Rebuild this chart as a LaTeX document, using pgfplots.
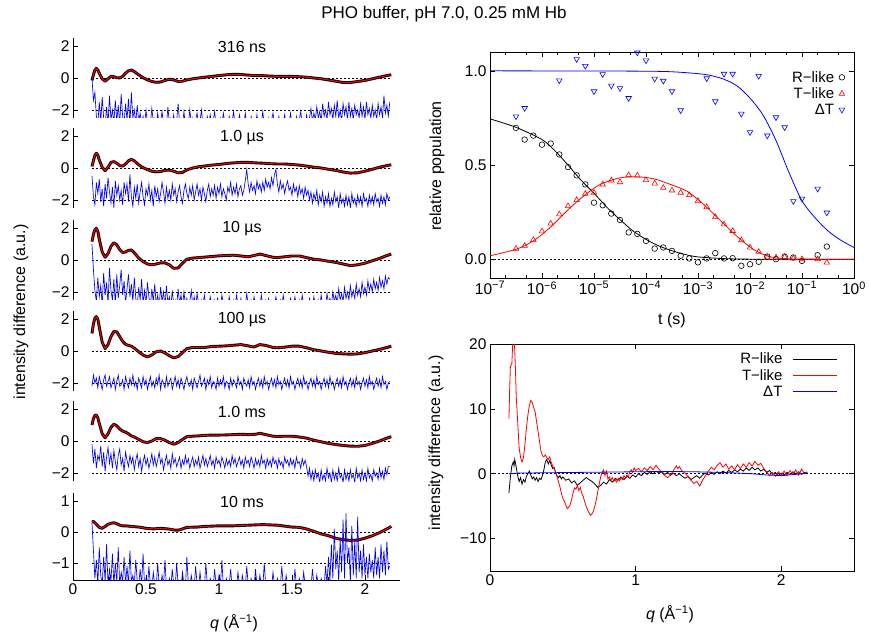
\documentclass[border=0pt]{standalone}
\usepackage{fontspec}
\setmainfont{Liberation Sans}
\usepackage{pgfplots}
\usepackage{pgfplotstable}
\pgfplotsset{compat=1.18}

% ---------- fits of the six time delays (q, intensity) ----------
\pgfplotstableread{
q f
0.13 -0.15
0.14 0.2
0.15 0.5
0.16 0.6
0.17 0.5
0.18 0.3
0.20 -0.05
0.22 -0.2
0.24 -0.05
0.26 0.1
0.28 0.08
0.30 0.02
0.32 0.0
0.34 0.1
0.36 0.3
0.38 0.45
0.40 0.5
0.42 0.4
0.45 0.2
0.48 0.02
0.51 -0.12
0.54 -0.22
0.57 -0.27
0.60 -0.25
0.63 -0.15
0.66 -0.08
0.69 -0.12
0.72 -0.22
0.75 -0.2
0.78 -0.12
0.82 -0.05
0.86 0.0
0.90 0.05
0.95 0.1
1.0 0.15
1.05 0.2
1.1 0.23
1.15 0.22
1.2 0.18
1.25 0.15
1.3 0.15
1.35 0.12
1.4 0.1
1.45 0.1
1.5 0.1
1.55 0.08
1.6 0.05
1.65 0.0
1.7 -0.05
1.75 -0.12
1.8 -0.2
1.85 -0.28
1.9 -0.28
1.95 -0.22
2.0 -0.15
2.05 -0.05
2.1 0.05
2.15 0.15
2.18 0.2
}\fitA

\pgfplotstableread{
q f
0.13 0.1
0.14 0.45
0.15 0.8
0.16 0.92
0.17 0.8
0.18 0.5
0.20 0.05
0.22 -0.17
0.24 0.05
0.26 0.35
0.28 0.4
0.30 0.3
0.32 0.15
0.34 0.12
0.36 0.25
0.38 0.45
0.40 0.54
0.42 0.45
0.45 0.2
0.48 0.02
0.51 -0.1
0.54 -0.2
0.57 -0.24
0.60 -0.22
0.63 -0.15
0.66 -0.13
0.69 -0.2
0.72 -0.3
0.75 -0.28
0.78 -0.12
0.82 0.0
0.86 0.08
0.90 0.12
0.95 0.18
1.0 0.22
1.05 0.28
1.1 0.32
1.15 0.35
1.2 0.35
1.25 0.32
1.3 0.3
1.35 0.27
1.4 0.25
1.45 0.25
1.5 0.22
1.55 0.18
1.6 0.12
1.65 0.05
1.7 0.0
1.75 -0.08
1.8 -0.15
1.85 -0.25
1.9 -0.32
1.95 -0.3
2.0 -0.2
2.05 -0.08
2.1 0.05
2.15 0.15
2.18 0.2
}\fitB

\pgfplotstableread{
q f
0.13 1.15
0.14 1.6
0.15 1.9
0.16 1.98
0.17 1.8
0.18 1.3
0.20 0.5
0.22 0.17
0.24 0.4
0.26 0.85
0.28 1.08
0.30 0.95
0.32 0.65
0.34 0.47
0.36 0.5
0.38 0.6
0.40 0.63
0.42 0.45
0.45 0.12
0.48 -0.1
0.51 -0.25
0.54 -0.3
0.57 -0.25
0.60 -0.18
0.63 -0.18
0.66 -0.3
0.69 -0.52
0.72 -0.5
0.75 -0.2
0.78 0.05
0.82 0.12
0.86 0.15
0.90 0.18
0.95 0.22
1.0 0.26
1.05 0.28
1.1 0.3
1.15 0.25
1.2 0.2
1.25 0.3
1.28 0.37
1.32 0.28
1.37 0.17
1.4 0.15
1.45 0.2
1.5 0.25
1.55 0.25
1.6 0.15
1.65 0.05
1.7 0.0
1.75 -0.08
1.8 -0.15
1.85 -0.25
1.9 -0.35
1.95 -0.3
2.0 -0.2
2.05 -0.05
2.1 0.1
2.15 0.28
2.18 0.37
}\fitC

\pgfplotstableread{
q f
0.13 1.1
0.14 1.7
0.15 2.05
0.16 2.15
0.17 2.0
0.18 1.5
0.20 0.55
0.22 0.15
0.24 0.4
0.26 0.9
0.28 1.22
0.30 1.2
0.32 0.9
0.34 0.6
0.36 0.42
0.38 0.35
0.40 0.3
0.42 0.18
0.45 -0.05
0.48 -0.25
0.51 -0.37
0.54 -0.25
0.57 -0.05
0.60 0.0
0.63 -0.12
0.66 -0.3
0.69 -0.43
0.72 -0.35
0.75 -0.1
0.78 0.15
0.82 0.22
0.86 0.22
0.90 0.22
0.95 0.28
1.0 0.3
1.05 0.32
1.1 0.36
1.15 0.4
1.2 0.32
1.24 0.25
1.28 0.4
1.32 0.35
1.37 0.22
1.4 0.2
1.45 0.24
1.5 0.3
1.55 0.3
1.6 0.2
1.65 0.08
1.7 0.0
1.75 -0.08
1.8 -0.15
1.85 -0.18
1.9 -0.2
1.95 -0.18
2.0 -0.1
2.05 0.0
2.1 0.1
2.15 0.22
2.18 0.3
}\fitD

\pgfplotstableread{
q f
0.13 1.0
0.14 1.4
0.15 1.6
0.16 1.62
0.17 1.45
0.18 1.1
0.20 0.45
0.22 0.2
0.24 0.45
0.26 0.85
0.28 1.05
0.30 0.95
0.32 0.75
0.34 0.62
0.36 0.55
0.38 0.45
0.40 0.32
0.42 0.25
0.45 0.1
0.48 -0.05
0.51 -0.1
0.54 0.0
0.57 0.15
0.60 0.15
0.63 0.05
0.66 -0.1
0.69 -0.2
0.72 -0.1
0.75 0.1
0.78 0.27
0.82 0.3
0.86 0.32
0.90 0.35
0.95 0.37
1.0 0.37
1.05 0.38
1.1 0.4
1.15 0.42
1.2 0.4
1.25 0.42
1.28 0.48
1.32 0.4
1.37 0.3
1.4 0.28
1.45 0.3
1.5 0.3
1.55 0.25
1.6 0.18
1.65 0.05
1.7 -0.05
1.75 -0.15
1.8 -0.22
1.85 -0.28
1.9 -0.32
1.95 -0.33
2.0 -0.28
2.05 -0.15
2.1 0.0
2.15 0.18
2.18 0.27
}\fitE

\pgfplotstableread{
q f
0.13 0.32
0.14 0.34
0.15 0.3
0.16 0.25
0.18 0.15
0.20 0.12
0.22 0.18
0.24 0.25
0.26 0.28
0.28 0.3
0.30 0.27
0.32 0.22
0.34 0.2
0.36 0.2
0.40 0.18
0.45 0.16
0.50 0.12
0.55 0.1
0.60 0.12
0.65 0.1
0.70 0.06
0.72 0.06
0.75 0.1
0.78 0.15
0.85 0.16
0.90 0.18
1.0 0.2
1.1 0.2
1.2 0.22
1.3 0.24
1.4 0.22
1.5 0.16
1.55 0.15
1.6 0.1
1.65 0.02
1.7 -0.06
1.75 -0.12
1.8 -0.2
1.85 -0.25
1.9 -0.27
1.95 -0.26
2.0 -0.2
2.05 -0.12
2.1 -0.02
2.15 0.1
2.18 0.18
}\fitF

% ---------- residuals (offset) of the six panels ----------
\pgfplotstableread{
q r1 r2 r3 r4 r5 r6
0.13 0.0 -0.5 1.0 -2.2 -0.2 0.3
0.14 -1.4 -1.8 -0.6 -1.5 -1.4 -0.6
0.15 -0.9 -2.3 -1.9 -2.0 -0.5 -1.5
0.16 -2.4 -0.9 -2.6 -1.7 -1.7 -0.9
0.17 -2.9 -1.6 -1.1 -2.3 -0.9 -1.7
0.18 -1.5 -0.7 -2.3 -1.6 -1.2 -0.5
0.19 -2.7 -2.1 -1.6 -2.0 -0.3 -1.4
0.20 -1.2 -1.3 -2.8 -2.4 -1.6 -1.7
0.21 -2.5 -2.4 -0.8 -1.8 -0.7 -0.8
0.22 -3.0 -1.0 -2.2 -1.5 -1.9 -1.6
0.23 -1.8 -1.9 -1.4 -2.2 -1.0 -0.4
0.24 -2.9 -0.6 -2.7 -1.9 -0.4 -1.7
0.25 -1.1 -1.5 -0.5 -1.6 -1.4 -1.2
0.26 -2.6 -2.2 -1.9 -2.3 -0.8 -1.6
0.27 -2.0 -1.2 -2.5 -2.0 -1.7 -0.7
0.28 -2.8 -2.5 -1.2 -1.7 -0.6 -1.7
0.29 -1.4 -0.8 -2.8 -2.4 -1.3 -1.0
0.30 -2.7 -1.7 -0.9 -1.9 -1.8 -1.6
0.31 -1.7 -1.1 -2.4 -1.5 -0.9 -0.5
0.32 -2.9 -2.0 -1.6 -2.2 -0.5 -1.7
0.33 -1.0 -1.4 -0.6 -2.1 -1.5 -1.3
0.34 -2.4 -2.3 -2.2 -1.8 -1.1 -1.6
0.35 -2.8 -0.9 -1.3 -2.4 -1.9 -0.8
0.36 -1.6 -1.6 -2.7 -1.6 -0.7 -1.7
0.37 -2.6 -1.0 -1.8 -2.0 -1.2 -1.1
0.38 -1.3 -2.1 -0.9 -2.3 -1.6 -1.7
0.39 -2.9 -0.4 -2.3 -1.7 -0.9 -0.6
0.40 -0.9 -1.8 -1.5 -2.1 -1.4 -1.6
0.41 -2.5 -2.4 -2.6 -1.5 -1.0 -1.4
0.42 -2.0 -1.2 -1.1 -2.2 -1.8 -1.7
0.43 -2.8 -1.9 -2.4 -1.9 -1.2 -0.9
0.44 -1.7 -1.0 -2.9 -2.4 -0.8 -1.6
0.45 -2.7 -2.2 -1.7 -1.7 -1.6 -1.7
0.46 -2.2 -1.5 -2.5 -2.0 -1.1 -1.2
0.47 -2.9 -0.9 -1.2 -2.3 -1.9 -1.7
0.48 -2.4 -1.8 -2.7 -1.6 -1.3 -0.7
0.49 -3.0 -2.3 -1.9 -2.1 -0.9 -1.7
0.50 -2.0 -1.3 -2.8 -1.8 -1.5 -1.5
0.51 -2.8 -1.7 -1.4 -2.4 -1.1 -1.8
0.52 -2.6 -1.0 -2.3 -2.0 -1.7 -1.1
0.53 -2.9 -2.0 -2.9 -1.6 -1.3 -1.7
0.54 -1.9 -1.4 -1.8 -2.2 -0.8 -1.8
0.55 -2.7 -2.4 -2.6 -1.9 -1.5 -1.3
0.56 -2.5 -1.1 -1.5 -2.3 -1.0 -1.7
0.57 -3.0 -1.8 -2.8 -1.7 -1.6 -1.8
0.58 -2.2 -1.3 -2.2 -2.1 -1.2 -1.0
0.59 -2.9 -2.1 -2.9 -1.5 -0.7 -1.7
0.60 -2.7 -1.6 -1.7 -2.4 -1.4 -1.8
0.61 -2.1 -0.9 -2.6 -1.8 -1.1 -1.4
0.62 -2.9 -1.5 -2.0 -2.0 -1.8 -1.7
0.63 -2.6 -2.2 -2.9 -2.3 -1.3 -0.9
0.64 -3.0 -1.2 -1.6 -1.6 -0.9 -1.8
0.65 -1.8 -1.9 -2.7 -2.2 -1.5 -1.7
0.66 -2.8 -1.4 -2.3 -1.9 -1.2 -1.5
0.67 -2.5 -2.0 -2.9 -1.7 -1.7 -1.8
0.68 -2.9 -1.0 -1.9 -2.4 -0.8 -1.2
0.69 -2.3 -1.7 -2.8 -2.0 -1.4 -1.7
0.70 -3.0 -1.3 -2.5 -1.6 -1.1 -1.8
0.71 -2.7 -2.1 -2.9 -2.2 -1.6 -1.0
0.72 -1.6 -1.5 -1.8 -1.8 -1.3 -1.7
0.73 -2.8 -1.1 -2.7 -2.3 -1.0 -1.6
0.74 -2.6 -1.8 -2.2 -1.7 -1.7 -1.8
0.75 -2.9 -2.2 -2.9 -2.0 -1.2 -1.3
0.76 -2.1 -1.4 -2.0 -2.4 -1.5 -1.7
0.77 -3.0 -1.0 -2.8 -1.9 -0.9 -1.8
0.78 -2.7 -1.6 -2.4 -1.6 -1.4 -0.8
0.79 -2.9 -1.9 -2.9 -2.1 -1.1 -1.7
0.80 -2.0 -1.2 -2.6 -2.2 -1.7 -1.8
0.81 -2.8 -1.7 -1.9 -1.8 -1.3 -1.4
0.82 -2.5 -1.1 -2.8 -2.4 -1.0 -1.7
0.83 -3.0 -2.0 -2.3 -1.7 -1.6 -1.8
0.84 -2.6 -1.5 -2.9 -2.0 -1.2 -1.1
0.85 -2.2 -1.0 -2.1 -2.3 -1.5 -1.7
0.86 -2.9 -1.7 -2.7 -1.9 -1.0 -1.8
0.87 -2.7 -1.3 -2.9 -1.5 -1.7 -1.3
0.88 -2.0 -2.0 -2.5 -2.2 -1.3 -1.7
0.89 -2.9 -1.2 -2.8 -2.0 -0.9 -1.6
0.90 -2.6 -1.6 -2.2 -1.7 -1.5 -1.8
0.91 -3.0 -2.1 -2.9 -2.4 -1.1 -1.0
0.92 -2.4 -1.4 -2.6 -1.8 -1.6 -1.7
0.93 -2.8 -1.0 -2.9 -2.1 -1.3 -1.8
0.94 -2.3 -1.8 -2.3 -1.6 -0.9 -1.5
0.95 -2.9 -1.3 -2.8 -2.3 -1.5 -1.7
0.96 -2.7 -1.7 -2.9 -1.9 -1.2 -1.8
0.97 -2.1 -1.1 -2.5 -2.0 -1.7 -1.2
0.98 -2.9 -1.9 -2.9 -2.4 -1.0 -1.7
0.99 -2.6 -1.2 -2.4 -1.7 -1.4 -1.8
1.00 -3.0 -1.6 -2.8 -2.2 -1.2 -1.4
1.01 -2.5 -1.0 -2.9 -1.8 -1.6 -1.7
1.02 -2.9 -1.8 -2.2 -2.1 -1.0 -0.9
1.03 -2.2 -1.3 -2.7 -1.6 -1.3 -1.8
1.04 -2.8 -1.6 -2.9 -2.3 -1.7 -1.7
1.05 -2.6 -2.0 -2.6 -1.9 -1.1 -1.5
1.06 -3.0 -1.2 -2.9 -2.0 -1.5 -1.8
1.07 -2.4 -1.5 -2.3 -2.4 -1.2 -1.7
1.08 -2.9 -0.9 -2.8 -1.7 -1.6 -1.2
1.09 -2.7 -1.7 -2.9 -2.2 -0.9 -1.8
1.10 -2.1 -1.2 -2.5 -1.8 -1.4 -1.7
1.11 -2.9 -1.6 -2.9 -2.0 -1.1 -1.6
1.12 -2.6 -1.0 -2.2 -2.3 -1.6 -1.8
1.13 -3.0 -1.8 -2.8 -1.6 -1.3 -1.3
1.14 -2.3 -1.3 -2.9 -2.1 -1.0 -1.7
1.15 -2.8 -1.1 -2.4 -1.9 -1.5 -1.8
1.16 -2.6 -1.7 -2.9 -2.4 -1.2 -1.4
1.17 -2.9 -1.4 -2.6 -1.7 -1.7 -1.7
1.18 -2.2 -0.8 -2.9 -2.0 -1.0 -1.8
1.19 -2.9 -0.1 -2.1 -2.2 -1.4 -1.1
1.20 -2.7 -1.0 -2.8 -1.8 -1.2 -1.7
1.21 -3.0 -1.5 -2.9 -2.3 -1.6 -1.8
1.22 -2.4 -0.9 -2.5 -1.6 -1.0 -1.5
1.23 -2.8 -1.4 -2.9 -2.1 -1.3 -1.7
1.24 -2.6 -1.1 -2.3 -1.9 -1.7 -1.8
1.25 -2.9 -1.6 -2.8 -2.4 -1.1 -1.2
1.26 -2.3 -0.8 -2.9 -2.0 -1.5 -1.7
1.27 -3.0 -1.3 -2.6 -1.7 -1.2 -1.8
1.28 -2.6 -1.0 -2.9 -2.2 -1.6 -1.4
1.29 -2.8 -1.5 -2.2 -1.8 -0.9 -1.7
1.30 -2.1 -0.9 -2.8 -2.3 -1.4 -1.8
1.31 -2.9 -1.4 -2.9 -1.6 -1.2 -1.0
1.32 -2.7 -0.7 -2.5 -2.1 -1.7 -1.7
1.33 -3.0 -1.2 -2.9 -1.9 -1.1 -1.8
1.34 -2.5 -0.9 -2.4 -2.4 -1.5 -1.6
1.35 -2.9 -1.3 -2.8 -2.0 -1.2 -1.7
1.36 -2.6 -0.6 -2.9 -1.7 -1.6 -1.8
1.37 -2.2 -1.1 -2.6 -2.2 -1.0 -1.3
1.38 -2.9 -0.4 -2.9 -1.8 -1.4 -1.7
1.39 -2.7 -0.1 -2.3 -2.3 -1.2 -1.8
1.40 -3.0 -1.0 -2.8 -1.6 -1.7 -1.5
1.41 -2.4 -1.5 -2.9 -2.1 -1.1 -1.7
1.42 -2.8 -0.8 -2.5 -1.9 -1.5 -1.8
1.43 -2.6 -1.3 -2.9 -2.4 -1.3 -1.1
1.44 -2.9 -1.0 -2.2 -2.0 -1.7 -1.7
1.45 -2.3 -1.6 -2.8 -1.7 -1.0 -1.8
1.46 -3.0 -1.1 -2.9 -2.2 -1.4 -1.4
1.47 -2.6 -0.8 -2.6 -1.8 -1.2 -1.7
1.48 -2.8 -1.4 -2.9 -2.3 -1.6 -1.8
1.49 -2.2 -1.2 -2.4 -1.6 -1.1 -1.6
1.50 -2.9 -1.7 -2.8 -2.1 -1.5 -1.7
1.51 -2.7 -1.0 -2.9 -1.9 -1.2 -1.8
1.52 -3.0 -1.5 -2.3 -2.4 -1.7 -1.2
1.53 -2.4 -1.2 -2.8 -2.0 -1.0 -1.7
1.54 -2.9 -1.8 -2.9 -1.7 -1.4 -1.8
1.55 -2.6 -1.1 -2.5 -2.2 -1.3 -1.5
1.56 -2.1 -1.6 -2.9 -1.8 -1.7 -1.7
1.57 -2.9 -1.3 -2.2 -2.3 -1.1 -1.8
1.58 -2.7 -1.9 -2.8 -1.6 -1.5 -1.3
1.59 -3.0 -1.2 -2.9 -2.1 -1.2 -1.7
1.60 -2.3 -1.7 -2.6 -1.9 -1.6 -1.8
1.61 -2.8 -1.4 -2.9 -2.4 -2.2 -1.6
1.62 -2.5 -2.0 -2.4 -2.0 -1.7 -1.7
1.63 -1.9 -1.5 -2.8 -1.7 -2.4 -1.8
1.64 -2.7 -2.2 -2.9 -2.2 -1.9 -1.2
1.65 -2.2 -1.6 -2.3 -1.8 -2.5 -1.7
1.66 -2.6 -2.0 -2.8 -2.3 -1.8 -1.8
1.67 -1.8 -1.4 -2.9 -1.6 -2.3 -1.4
1.68 -2.5 -2.3 -2.5 -2.1 -2.0 -1.7
1.69 -2.1 -1.7 -2.9 -1.9 -2.6 -1.8
1.70 -2.7 -2.1 -2.2 -2.4 -1.8 -1.5
1.71 -1.6 -1.5 -2.8 -2.0 -2.4 -1.7
1.72 -2.4 -2.4 -2.6 -1.7 -2.1 -1.8
1.73 -2.0 -1.8 -2.9 -2.2 -2.5 -1.1
1.74 -2.6 -2.2 -2.1 -1.8 -1.7 -1.7
1.75 -1.5 -1.6 -2.7 -2.3 -2.3 -0.8
1.76 -2.3 -2.4 -2.4 -1.6 -2.0 -1.6
1.77 -1.9 -1.9 -2.8 -2.1 -2.6 -0.4
1.78 -2.6 -2.3 -2.0 -1.9 -1.8 -1.5
1.79 -1.7 -1.5 -2.6 -2.4 -2.4 0.1
1.80 -2.4 -2.1 -2.2 -2.0 -2.0 -1.2
1.81 -1.4 -1.8 -2.7 -1.7 -2.5 -0.6
1.82 -2.5 -2.5 -1.8 -2.2 -1.7 -1.6
1.83 -2.0 -1.6 -2.5 -1.8 -2.3 -0.2
1.84 -2.7 -2.2 -2.1 -2.3 -2.1 -1.3
1.85 -1.6 -1.9 -2.6 -1.6 -2.6 0.4
1.86 -2.3 -2.4 -1.7 -2.1 -1.8 -1.5
1.87 -1.8 -1.7 -2.4 -1.9 -2.4 0.6
1.88 -2.6 -2.3 -2.0 -2.4 -2.0 -1.0
1.89 -1.5 -1.8 -2.5 -2.0 -2.5 -0.5
1.90 -2.4 -2.5 -1.6 -1.7 -1.8 -1.6
1.91 -1.9 -1.6 -2.3 -2.2 -2.3 0.2
1.92 -2.6 -2.2 -1.9 -1.8 -2.1 -1.4
1.93 -1.7 -1.9 -2.4 -2.3 -2.6 -0.3
1.94 -2.3 -2.4 -1.5 -1.6 -1.7 -1.5
1.95 -2.0 -1.7 -2.2 -2.1 -2.3 0.5
1.96 -2.5 -2.2 -1.8 -1.9 -2.0 -1.3
1.97 -1.6 -1.8 -2.3 -2.4 -2.5 -0.6
1.98 -2.4 -2.4 -1.4 -2.0 -1.8 -1.5
1.99 -1.8 -1.6 -2.1 -1.7 -2.4 -0.4
2.00 -2.6 -2.1 -1.7 -2.2 -2.0 -1.4
2.01 -1.5 -1.9 -2.2 -1.8 -2.5 -0.8
2.02 -2.3 -2.4 -1.3 -2.3 -1.7 -1.5
2.03 -1.9 -1.7 -1.9 -1.6 -2.3 -0.7
2.04 -2.5 -2.2 -1.5 -2.1 -2.1 -1.3
2.05 -1.7 -1.8 -2.0 -1.9 -2.5 -0.9
2.06 -2.4 -2.3 -1.2 -2.4 -1.8 -1.5
2.07 -2.0 -1.6 -1.8 -2.0 -2.2 -0.5
2.08 -2.6 -2.1 -1.4 -1.7 -2.0 -1.4
2.09 -1.6 -1.9 -1.9 -2.2 -2.4 -0.8
2.10 -2.3 -2.4 -1.1 -1.8 -1.7 -1.5
2.11 -1.8 -1.7 -1.7 -2.3 -2.3 -0.4
2.12 -2.5 -2.2 -1.3 -1.6 -1.9 -1.3
2.13 -1.1 -1.8 -1.8 -2.1 -2.4 -0.6
2.14 -2.2 -2.3 -1.0 -1.9 -1.7 -1.4
2.15 -1.7 -1.6 -1.5 -2.4 -2.1 -0.3
2.16 -2.4 -2.0 -1.1 -2.0 -1.6 -1.2
2.17 -1.5 -1.8 -1.2 -1.9 -1.6 -1.1
}\resid

\pgfplotsset{
  every axis/.append style={scale only axis, anchor=south west,
    tick align=inside, major tick length=5pt, minor tick length=3pt,
    tick style={black, line width=0.6pt},
    axis line style={line width=0.8pt},
    tick label style={font=\fontsize{15.5}{18}\selectfont},
    clip=true},
  lp/.style={width=327pt, height=80pt, xmin=0, xmax=2.24, ymin=-2.5, ymax=2.5,
    axis y line*=left,
    ytick={-2,0,2}, yticklabels={−2,0,2}},
  zl/.style={black, line width=0.6pt, dash pattern=on 2pt off 2pt},
  bk/.style={black, line width=2.9pt, line join=round},
  rd/.style={red, line width=1pt, line join=round},
  bl/.style={blue, line width=0.65pt},
}

\begin{document}
\begin{tikzpicture}[font=\fontsize{16}{19}\selectfont]
\useasboundingbox (0pt,0pt) rectangle (869pt,635pt);

% ---- left column ----
\begin{axis}[lp, axis x line=none, at={(73pt,517pt)}]
\addplot[zl] coordinates {(0.13,0) (2.18,0)};
\addplot[zl] coordinates {(0.13,-2) (2.18,-2)};
\addplot[bk] table[x=q,y=f]{\fitA};
\addplot[rd] table[x=q,y=f]{\fitA};
\addplot[bl] table[x=q,y=r1]{\resid};
\end{axis}

\begin{axis}[lp, axis x line=none, at={(73pt,427pt)}]
\addplot[zl] coordinates {(0.13,0) (2.18,0)};
\addplot[zl] coordinates {(0.13,-2) (2.18,-2)};
\addplot[bk] table[x=q,y=f]{\fitB};
\addplot[rd] table[x=q,y=f]{\fitB};
\addplot[bl] table[x=q,y=r2]{\resid};
\end{axis}

\begin{axis}[lp, axis x line=none, at={(73pt,335pt)}]
\addplot[zl] coordinates {(0.13,0) (2.18,0)};
\addplot[zl] coordinates {(0.13,-2) (2.18,-2)};
\addplot[bk] table[x=q,y=f]{\fitC};
\addplot[rd] table[x=q,y=f]{\fitC};
\addplot[bl] table[x=q,y=r3]{\resid};
\end{axis}

\begin{axis}[lp, axis x line=none, at={(73pt,244pt)}]
\addplot[zl] coordinates {(0.13,0) (2.18,0)};
\addplot[zl] coordinates {(0.13,-2) (2.18,-2)};
\addplot[bk] table[x=q,y=f]{\fitD};
\addplot[rd] table[x=q,y=f]{\fitD};
\addplot[bl] table[x=q,y=r4]{\resid};
\end{axis}

\begin{axis}[lp, axis x line=none, at={(73pt,154pt)}]
\addplot[zl] coordinates {(0.13,0) (2.18,0)};
\addplot[zl] coordinates {(0.13,-2) (2.18,-2)};
\addplot[bk] table[x=q,y=f]{\fitE};
\addplot[rd] table[x=q,y=f]{\fitE};
\addplot[bl] table[x=q,y=r5]{\resid};
\end{axis}

\begin{axis}[lp, at={(73pt,55pt)}, height=87pt, ymin=-1.55, ymax=1.26,
  ytick={-1,0,1}, yticklabels={−1,0,1},
  axis x line*=bottom,
  xtick={0,0.5,1,1.5,2}, xticklabels={0,0.5,1,1.5,2},
  minor xtick={0.25,0.75,1.25,1.75}]
\addplot[zl] coordinates {(0.13,0) (2.18,0)};
\addplot[zl] coordinates {(0.13,-1) (2.18,-1)};
\addplot[bk] table[x=q,y=f]{\fitF};
\addplot[rd] table[x=q,y=f]{\fitF};
\addplot[bl] table[x=q,y=r6]{\resid};
\end{axis}

% ---- right top: populations ----
\begin{axis}[at={(490pt,357pt)}, width=364pt, height=226pt,
  xmode=log, xmin=1e-7, xmax=1, ymin=-0.1, ymax=1.1,
  xtick={1e-7,1e-6,1e-5,1e-4,1e-3,1e-2,1e-1,1},
  xticklabels={10\textsuperscript{−7},10\textsuperscript{−6},10\textsuperscript{−5},10\textsuperscript{−4},10\textsuperscript{−3},10\textsuperscript{−2},10\textsuperscript{−1},10\textsuperscript{0}},
  minor xtick={2e-7,5e-7,2e-6,5e-6,2e-5,5e-5,2e-4,5e-4,2e-3,5e-3,2e-2,5e-2,2e-1,5e-1},
  ytick={0,0.5,1}, yticklabels={0.0,0.5,1.0},
  legend cell align=right, legend plot pos=right,
  legend style={draw=none, fill=none, at={(0.975,0.925)}, anchor=north east,
    font=\fontsize{15}{17}\selectfont, row sep=0pt, inner sep=0pt,
    /tikz/column sep=3pt}]
\addplot[zl, forget plot] coordinates {(1e-7,0) (1,0)};
\addplot[black, line width=0.8pt, smooth, forget plot] coordinates {
(1e-7,0.745) (3.16e-7,0.70) (1e-6,0.635) (1.78e-6,0.575) (3.16e-6,0.50)
(5.62e-6,0.42) (1e-5,0.35) (1.78e-5,0.275) (3.16e-5,0.21) (5.62e-5,0.15)
(1e-4,0.105) (1.78e-4,0.07) (3.16e-4,0.045) (5.62e-4,0.025) (1e-3,0.012)
(3.16e-3,0.003) (1e-2,0.0) (1e-1,0.0) (1,0.0)};
\addplot[red, line width=0.8pt, smooth, forget plot] coordinates {
(1e-7,0.018) (3.2e-7,0.053) (6.8e-7,0.097) (1.43e-6,0.168) (3.0e-6,0.256)
(6.3e-6,0.335) (1.32e-5,0.397) (3.2e-5,0.432) (6.7e-5,0.437) (1.4e-4,0.427)
(2.94e-4,0.397) (6.2e-4,0.36) (1.29e-3,0.29) (2.7e-3,0.205) (5.7e-3,0.12)
(1.19e-2,0.05) (2.48e-2,0.012) (5.2e-2,0.002) (0.2,0.0) (1,0.0)};
\addplot[blue, line width=0.8pt, smooth, forget plot] coordinates {
(1e-7,1.0) (1e-5,0.999) (1e-4,0.998) (3.16e-4,0.995) (1e-3,0.985)
(1.78e-3,0.975) (3.16e-3,0.955) (5.62e-3,0.92) (1e-2,0.855) (1.78e-2,0.765)
(3.16e-2,0.63) (5.62e-2,0.46) (0.1,0.31) (0.178,0.22) (0.316,0.15)
(0.562,0.10) (1,0.062)};
\addplot[only marks, mark=o, mark size=2.8pt, mark options={black, line width=0.6pt}] coordinates {
(3.16e-7,0.697) (4.64e-7,0.635) (6.81e-7,0.656) (1e-6,0.608) (1.47e-6,0.614)
(2.15e-6,0.556) (3.16e-6,0.489) (4.64e-6,0.445) (6.81e-6,0.397) (1e-5,0.300)
(1.47e-5,0.286) (2.15e-5,0.242) (3.16e-5,0.208) (4.64e-5,0.142) (6.81e-5,0.134)
(1e-4,0.097) (1.47e-4,0.056) (2.15e-4,0.062) (3.16e-4,0.044) (4.64e-4,0.018)
(6.81e-4,0.004) (1e-3,-0.017) (1.47e-3,0.004) (2.15e-3,0.032) (3.16e-3,0.004)
(4.64e-3,0.005) (6.81e-3,-0.035) (1e-2,-0.027) (1.47e-2,-0.014) (2.15e-2,0.014)
(3.16e-2,0.0) (4.64e-2,0.014) (6.81e-2,0.009) (0.1,-0.009) (0.2,0.021) (0.3,0.067)};
\addlegendentry{R−like}
\addplot[only marks, mark=triangle, mark size=3.2pt, mark options={red, line width=0.6pt}] coordinates {
(3.16e-7,0.056) (4.64e-7,0.071) (6.81e-7,0.102) (1e-6,0.148) (1.47e-6,0.189)
(2.15e-6,0.238) (3.16e-6,0.282) (4.64e-6,0.314) (6.81e-6,0.347) (1e-5,0.353)
(1.47e-5,0.397) (2.15e-5,0.418) (3.16e-5,0.409) (4.64e-5,0.446) (6.81e-5,0.444)
(1e-4,0.420) (1.47e-4,0.402) (2.15e-4,0.379) (3.16e-4,0.365) (4.64e-4,0.353)
(6.81e-4,0.340) (1e-3,0.309) (1.47e-3,0.277) (2.15e-3,0.224) (3.16e-3,0.185)
(4.64e-3,0.150) (6.81e-3,0.101) (1e-2,0.062) (1.47e-2,0.039) (2.15e-2,0.009)
(3.16e-2,0.009) (4.64e-2,0.012) (6.81e-2,0.004) (0.1,0.0) (0.2,0.0) (0.3,-0.018)};
\addlegendentry{T−like}
\addplot[only marks, mark=triangle, mark size=3.2pt, mark options={blue, line width=0.6pt, rotate=180}] coordinates {
(3.16e-7,0.758) (4.64e-7,0.802) (2.15e-6,0.949) (4.64e-6,1.062) (6.81e-6,1.026)
(1e-5,0.891) (1.47e-5,0.982) (2.15e-5,0.921) (3.16e-5,0.908) (4.64e-5,0.855)
(6.81e-5,1.097) (1e-4,1.055) (1.47e-4,0.958) (2.15e-4,0.947) (3.16e-4,0.891)
(4.64e-4,0.790) (1.47e-3,0.960) (2.15e-3,0.838) (3.16e-3,0.984) (4.64e-3,0.984)
(6.81e-3,0.772) (1e-2,0.674) (1.47e-2,0.973) (2.15e-2,0.656) (3.16e-2,0.753)
(4.64e-2,0.700) (6.81e-2,0.308) (0.1,0.321) (0.2,0.374) (0.3,0.247)};
\addlegendentry{ΔT}
\end{axis}

% ---- right bottom: species difference patterns ----
\begin{axis}[at={(490pt,64pt)}, width=364pt, height=227pt,
  xmin=0, xmax=2.5, ymin=-15, ymax=20,
  xtick={0,1,2}, xticklabels={0,1,2},
  ytick={-10,0,10,20}, yticklabels={−10,0,10,20},
  legend cell align=right, legend plot pos=right,
  legend image code/.code={\draw[#1] (0pt,0pt) -- (44pt,0pt);},
  legend style={draw=none, fill=none, at={(0.955,0.97)}, anchor=north east,
    font=\fontsize{15}{17}\selectfont, row sep=0pt, inner sep=0pt,
    /tikz/column sep=8pt}]
\addlegendimage{draw=black, line width=1pt}
\addlegendentry{R−like}
\addlegendimage{draw=red, line width=1pt}
\addlegendentry{T−like}
\addlegendimage{draw=blue, line width=1pt}
\addlegendentry{ΔT}
\addplot[zl, forget plot] coordinates {(0,0) (2.5,0)};
\addplot[black, line width=0.8pt, forget plot] coordinates {
(0.13,-3.0) (0.14,-0.5) (0.15,1.2) (0.16,1.8) (0.165,1.2) (0.17,2.2) (0.18,1.0)
(0.19,-0.3) (0.20,-1.2) (0.21,-0.6) (0.22,-1.6) (0.23,-0.9) (0.24,-1.3) (0.25,-0.4)
(0.26,0.0) (0.27,0.4) (0.28,-0.2) (0.29,-0.8) (0.30,-0.5) (0.31,-1.0) (0.32,-0.6)
(0.33,-1.2) (0.34,-0.7) (0.35,-0.9) (0.36,-0.3) (0.37,0.6) (0.38,1.8) (0.39,2.2)
(0.40,1.5) (0.41,2.0) (0.42,1.4) (0.43,0.8) (0.44,1.0) (0.45,0.2) (0.46,-0.3)
(0.47,-0.6) (0.48,-0.3) (0.49,-0.8) (0.50,-0.5) (0.52,-1.0) (0.54,-0.8) (0.56,-1.4)
(0.58,-1.1) (0.60,-1.8) (0.62,-1.4) (0.64,-1.0) (0.66,-0.6) (0.68,-0.9) (0.70,-1.2)
(0.72,-1.6) (0.74,-2.1) (0.76,-1.8) (0.78,-1.3) (0.80,-1.6) (0.82,-0.9) (0.84,-1.3)
(0.86,-0.7) (0.88,-1.0) (0.90,-0.5) (0.92,-0.9) (0.94,-0.4) (0.96,-0.7) (0.98,-0.2)
(1.00,-0.5) (1.02,0.0) (1.04,-0.3) (1.06,0.2) (1.08,-0.1) (1.10,0.3) (1.12,0.0)
(1.14,0.4) (1.16,0.1) (1.18,0.3) (1.20,-0.1) (1.22,0.2) (1.24,-0.2) (1.26,0.1)
(1.28,-0.3) (1.30,0.0) (1.32,-0.4) (1.34,-0.7) (1.36,-0.4) (1.38,-0.9) (1.40,-0.6)
(1.42,-0.3) (1.44,-0.7) (1.46,-0.2) (1.48,0.1) (1.50,-0.2) (1.52,0.2) (1.54,-0.1)
(1.56,0.3) (1.58,0.0) (1.60,0.4) (1.62,0.1) (1.64,0.5) (1.66,0.2) (1.68,0.6)
(1.70,0.3) (1.72,0.7) (1.74,0.4) (1.76,0.9) (1.78,0.5) (1.80,1.0) (1.82,0.6)
(1.84,0.9) (1.86,0.4) (1.88,0.7) (1.90,0.2) (1.92,0.5) (1.94,-0.1) (1.96,0.2)
(1.98,-0.3) (2.00,0.1) (2.02,-0.2) (2.04,0.2) (2.06,-0.1) (2.08,0.3) (2.10,0.0)
(2.12,0.3) (2.14,-0.1) (2.16,0.2) (2.18,0.1)};
\addplot[red, line width=0.8pt, forget plot] coordinates {
(0.13,8.5) (0.135,13) (0.14,16.5) (0.15,17) (0.155,19.5) (0.16,22) (0.165,21)
(0.17,19) (0.175,16) (0.18,12) (0.19,8) (0.20,4) (0.21,2.5) (0.22,1.8) (0.23,2.5)
(0.24,4.5) (0.25,7) (0.26,9) (0.27,10.5) (0.28,11.3) (0.29,11.0) (0.30,10.2)
(0.31,9.5) (0.32,8.0) (0.33,6.5) (0.34,5.0) (0.35,3.5) (0.36,2.8) (0.37,2.6)
(0.38,2.9) (0.39,2.5) (0.40,2.2) (0.41,2.6) (0.42,1.8) (0.43,1.2) (0.44,0.8)
(0.45,0.3) (0.46,-0.4) (0.47,-1.2) (0.48,-2.0) (0.49,-3.0) (0.50,-3.8) (0.51,-4.2)
(0.52,-4.8) (0.53,-5.4) (0.54,-5.2) (0.55,-4.8) (0.56,-4.0) (0.57,-3.0) (0.58,-2.2)
(0.59,-2.4) (0.60,-1.8) (0.61,-2.6) (0.62,-2.1) (0.63,-3.0) (0.64,-3.5) (0.65,-4.3)
(0.66,-5.0) (0.67,-5.6) (0.68,-6.0) (0.69,-6.4) (0.70,-6.2) (0.71,-5.8) (0.72,-5.0)
(0.73,-4.0) (0.74,-2.8) (0.75,-1.6) (0.76,-0.5) (0.77,0.2) (0.78,0.6) (0.79,-0.3)
(0.80,0.4) (0.81,-0.8) (0.82,-0.5) (0.83,-1.0) (0.84,-0.6) (0.85,-1.2) (0.86,-0.9)
(0.87,-1.3) (0.88,-0.7) (0.89,-1.1) (0.90,-0.6) (0.91,-0.9) (0.92,-0.3) (0.93,-0.7)
(0.94,-0.2) (0.95,-0.5) (0.96,0.3) (0.97,0.6) (0.98,0.2) (0.99,0.9) (1.00,0.5)
(1.02,0.8) (1.04,0.3) (1.06,0.9) (1.08,0.5) (1.10,1.1) (1.12,0.6) (1.14,1.3)
(1.16,0.7) (1.18,0.2) (1.20,-0.3) (1.22,-0.6) (1.24,-0.2) (1.26,0.5) (1.28,1.2)
(1.29,0.8) (1.30,1.1) (1.32,0.4) (1.34,0.1) (1.36,-0.5) (1.38,-1.0) (1.40,-1.5)
(1.42,-1.2) (1.44,-1.9) (1.46,-1.0) (1.48,-0.3) (1.50,0.4) (1.52,1.0) (1.54,0.6)
(1.56,1.3) (1.58,1.7) (1.60,1.0) (1.62,1.5) (1.64,0.7) (1.66,1.2) (1.68,0.6)
(1.70,1.4) (1.72,0.8) (1.74,1.5) (1.76,1.0) (1.78,1.7) (1.80,1.2) (1.82,1.9)
(1.84,1.3) (1.86,1.6) (1.88,0.8) (1.90,0.3) (1.92,-0.3) (1.94,0.2) (1.96,-0.4)
(1.98,0.3) (2.00,-0.2) (2.02,0.4) (2.04,-0.3) (2.06,0.5) (2.08,-0.1) (2.10,0.6)
(2.12,-0.2) (2.14,0.7) (2.16,0.0) (2.18,0.3)};
\addplot[blue, line width=0.8pt, forget plot] coordinates {
(0.13,0.0) (0.2,0.1) (0.4,0.15) (0.6,0.2) (0.8,0.25) (1.0,0.3) (1.2,0.35)
(1.4,0.3) (1.6,0.2) (1.8,0.0) (1.9,-0.2) (2.0,-0.3) (2.1,-0.1) (2.18,0.1)};
\end{axis}

% ---- texts ----
\node[font=\fontsize{17}{20}\selectfont] at (444pt,621pt) {PHO buffer, pH 7.0, 0.25 mM Hb};
\node at (242pt,588pt) {316 ns};
\node at (242pt,497pt) {1.0 µs};
\node at (242pt,406pt) {10 µs};
\node at (242pt,315pt) {100 µs};
\node at (242pt,223pt) {1.0 ms};
\node at (242pt,133pt) {10 ms};
\node[rotate=90] at (21pt,323pt) {intensity difference (a.u.)};
\node at (234pt,12pt) {{\itshape q} (Å\textsuperscript{−1})};
\node[rotate=90] at (437pt,469pt) {relative population};
\node at (672pt,315pt) {t (s)};
\node[rotate=90] at (436pt,192pt) {intensity difference (a.u.)};
\node at (670pt,21pt) {{\itshape q} (Å\textsuperscript{−1})};
\end{tikzpicture}
\end{document}
